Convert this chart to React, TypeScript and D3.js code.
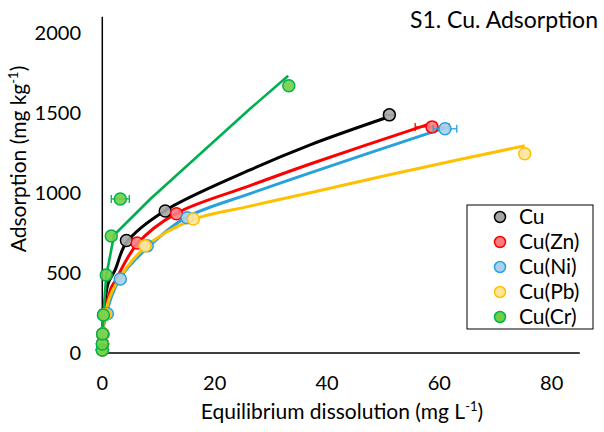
import React from "react";
import * as d3 from "d3";

const W = 604;
const H = 432;

const seriesNames = ["Cu", "Cu(Zn)", "Cu(Ni)", "Cu(Pb)", "Cu(Cr)"];
const lineColors = ["#000000", "#ff0000", "#27a2dc", "#ffc000", "#00b050"];
const fillColors = ["#a6a6a6", "#ff7c80", "#a9d1ef", "#ffe699", "#6fcf45"];
const strokeColors = ["#000000", "#ff0000", "#27a2dc", "#ffc000", "#00b050"];

// observed points (equilibrium dissolution, adsorption, x error)
const cuX = [0.02, 0.05, 0.1, 0.3, 4.3, 11.2, 51.1];
const cuY = [20, 58, 118, 240, 703, 887, 1487];
const cuErr = [0, 0, 0, 0, 0, 0, 0.9];
const znX = [0.02, 0.05, 0.1, 0.4, 6.2, 13.2, 58.7];
const znY = [20, 58, 118, 240, 687, 869, 1412];
const znErr = [0, 0, 0, 0, 0, 0, 3.0];
const niX = [0.02, 0.05, 0.1, 0.9, 3.2, 8.0, 15.1, 61.0];
const niY = [20, 58, 118, 245, 462, 669, 844, 1400];
const niErr = [0, 0, 0, 0, 0, 0, 0, 2.1];
const pbX = [0.02, 0.05, 0.1, 0.5, 7.6, 16.2, 75.2];
const pbY = [20, 58, 118, 240, 669, 837, 1244];
const pbErr = [0, 0, 0, 0, 0, 0, 0];
const crX = [0.0, 0.0, 0.05, 0.2, 0.7, 1.6, 3.2, 33.2];
const crY = [19, 56, 119, 237, 487, 731, 962, 1669];
const crErr = [0, 0, 0, 0, 0, 0, 1.6, 0];

// fitted isotherm curves
const cuFitX = [0, 0.2, 1.0, 2.3, 4.3, 10.8, 26.3, 37.0, 50.5];
const cuFitY = [10, 200, 430, 520, 690, 881, 1143, 1300, 1469];
const znFitX = [0, 0.3, 1.5, 2.3, 6.2, 13.0, 26.3, 37.0, 58.3];
const znFitY = [10, 200, 400, 450, 681, 869, 1045, 1180, 1431];
const niFitX = [0, 0.4, 3.2, 8.0, 14.8, 26.3, 37.0, 61.0];
const niFitY = [10, 200, 469, 656, 844, 995, 1125, 1406];
const pbFitX = [0, 0.3, 1.8, 7.6, 16.0, 26.3, 37.0, 55.0, 75.2];
const pbFitY = [10, 200, 390, 660, 831, 917, 1001, 1143, 1294];
const crFitX = [0, 0.2, 0.7, 2.1, 8.5, 26.3, 33.1];
const crFitY = [20, 240, 481, 737, 960, 1525, 1731];

const xTicks = [0, 20, 40, 60, 80];
const yTicks = [0, 500, 1000, 1500, 2000];

const pts = [
  [cuX, cuY, cuErr],
  [znX, znY, znErr],
  [niX, niY, niErr],
  [pbX, pbY, pbErr],
  [crX, crY, crErr],
];
const fits = [
  [cuFitX, cuFitY],
  [znFitX, znFitY],
  [niFitX, niFitY],
  [pbFitX, pbFitY],
  [crFitX, crFitY],
];

const FONT = "Lato, 'Open Sans', sans-serif";

export default function App() {
  const x = d3.scaleLinear().domain([0, 85]).range([102.3, 579.8]);
  const y = d3.scaleLinear().domain([0, 2100]).range([353, 16.7]);
  const smooth = d3
    .line<[number, number]>()
    .x((d) => x(d[0]))
    .y((d) => y(d[1]))
    .curve(d3.curveCatmullRom.alpha(0.5));
  const straight = d3
    .line<[number, number]>()
    .x((d) => x(d[0]))
    .y((d) => y(d[1]));

  const fitPath = (f: number[][], i: number) => {
    const p = f[0].map((v, j) => [v, f[1][j]] as [number, number]);
    return (i === 4 ? straight(p) : smooth(p)) || "";
  };

  return (
    <svg
      width={W}
      height={H}
      style={{ position: "absolute", left: 0, top: 0, background: "#fff" }}
      fontFamily={FONT}
    >
      {/* axes */}
      <line x1={x(0)} x2={x(0)} y1={y(2100)} y2={y(0)} stroke="#000" strokeWidth={1.5} />
      <line x1={x(0)} x2={x(85)} y1={y(0)} y2={y(0)} stroke="#000" strokeWidth={1.5} />
      {yTicks.map((t) => (
        <text key={"y" + t} x={81} y={y(t)} dy="0.35em" textAnchor="end" fontSize={20} fill="#000">
          {t}
        </text>
      ))}
      {xTicks.map((t) => (
        <text key={"x" + t} x={x(t)} y={383} dy="0.35em" textAnchor="middle" fontSize={20} fill="#000">
          {t}
        </text>
      ))}
      <text x={342} y={419} textAnchor="middle" fontSize={21} fill="#000">
        Equilibrium dissolution (mg L
        <tspan dy={-8} fontSize={13}>-1</tspan>
        <tspan dy={8}>)</tspan>
      </text>
      <text transform={`translate(26,159) rotate(-90)`} textAnchor="middle" fontSize={21} fill="#000">
        Adsorption (mg kg
        <tspan dy={-8} fontSize={13}>-1</tspan>
        <tspan dy={8}>)</tspan>
      </text>
      <text x={598} y={28} textAnchor="end" fontSize={23} fill="#000">
        S1. Cu. Adsorption
      </text>

      {/* fitted lines */}
      {fits.map((f, i) => (
        <path
          key={"l" + i}
          d={fitPath(f, i)}
          fill="none"
          stroke={lineColors[i]}
          strokeWidth={i === 4 ? 2.6 : 3}
        />
      ))}

      {/* points with error bars */}
      {pts.map((p, i) => (
        <g key={"p" + i}>
          {p[0].map((v, j) => {
            const e = p[2][j];
            const cx = x(v);
            const cy = y(p[1][j]);
            return (
              <g key={j}>
                {e > 0 && (
                  <g stroke={strokeColors[i]} strokeWidth={1.3}>
                    <line x1={x(v - e)} x2={x(v + e)} y1={cy} y2={cy} />
                    <line x1={x(v - e)} x2={x(v - e)} y1={cy - 4} y2={cy + 4} />
                    <line x1={x(v + e)} x2={x(v + e)} y1={cy - 4} y2={cy + 4} />
                  </g>
                )}
                <circle
                  cx={cx}
                  cy={cy}
                  r={6}
                  fill={fillColors[i]}
                  fillOpacity={0.9}
                  stroke={strokeColors[i]}
                  strokeWidth={1.5}
                />
              </g>
            );
          })}
        </g>
      ))}

      {/* legend */}
      <rect x={467} y={205} width={126} height={124} fill="#fff" stroke="#000" strokeWidth={1} />
      {seriesNames.map((n, i) => (
        <g key={"lg" + i}>
          <circle
            cx={500}
            cy={217 + i * 25}
            r={5.5}
            fill={fillColors[i]}
            stroke={strokeColors[i]}
            strokeWidth={1.5}
          />
          <text x={519} y={217 + i * 25} dy="0.35em" fontSize={21} fill="#000">
            {n}
          </text>
        </g>
      ))}
    </svg>
  );
}
